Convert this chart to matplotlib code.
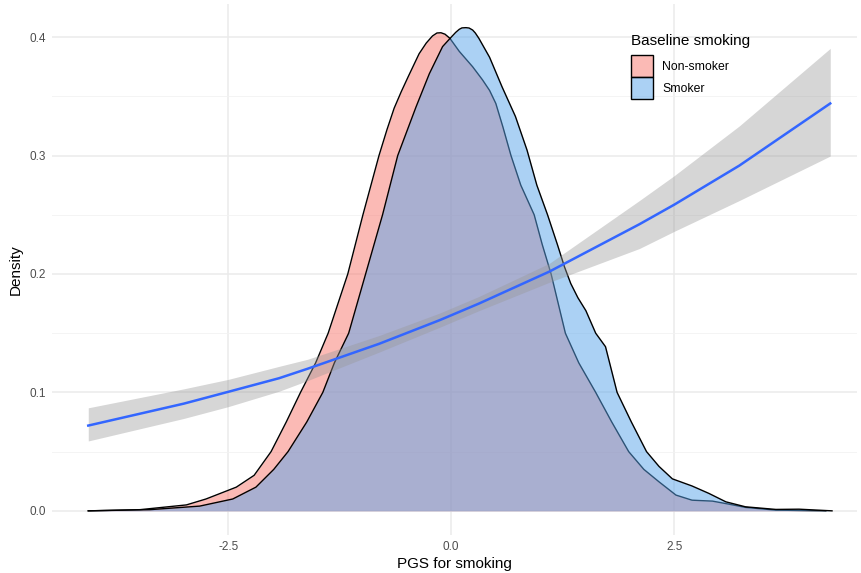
# Density of PGS for smoking by baseline smoking, with fitted curve
import matplotlib
matplotlib.use("Agg")
import matplotlib.pyplot as plt
from matplotlib.colors import to_rgba
from matplotlib.patches import Patch

plt.rcParams['font.family'] = ['Liberation Sans', 'DejaVu Sans']

# Non-smoker density
non_x = [-4.07, -3.49, -2.97, -2.75, -2.41, -2.21, -2.02, -1.85, -1.69, -1.52, -1.38,
         -1.16, -0.99, -0.81, -0.72, -0.64, -0.56, -0.48, -0.36, -0.28, -0.21, -0.16, -0.115,
         -0.07, -0.015, 0.09, 0.24, 0.35, 0.43, 0.50, 0.58, 0.67, 0.78, 0.93, 1.02, 1.12,
         1.28, 1.43, 1.62, 1.80, 1.99, 2.16, 2.33, 2.52, 2.70, 2.93, 3.11, 3.30, 3.64, 4.20]
non_y = [0.000, 0.001, 0.005, 0.010, 0.020, 0.030, 0.050, 0.075, 0.100, 0.125, 0.150,
         0.200, 0.250, 0.300, 0.322, 0.340, 0.354, 0.367, 0.386, 0.395, 0.401, 0.4035, 0.4037,
         0.4025, 0.399, 0.388, 0.375, 0.364, 0.355, 0.344, 0.324, 0.300, 0.275, 0.250, 0.225, 0.200,
         0.150, 0.125, 0.100, 0.075, 0.050, 0.035, 0.0245, 0.0133, 0.009, 0.0082, 0.0057, 0.0029,
         0.0006, 0.000]

# Smoker density
smk_x = [-4.07, -3.38, -2.82, -2.45, -2.19, -1.99, -1.83, -1.62, -1.44, -1.31, -1.15,
         -0.96, -0.77, -0.60, -0.395, -0.246, -0.097, 0.00, 0.05, 0.09, 0.12, 0.165, 0.20,
         0.24, 0.27, 0.31, 0.43, 0.57, 0.72, 0.85, 0.96, 1.08, 1.19, 1.27, 1.34, 1.42, 1.51, 1.62,
         1.73, 1.86, 2.02, 2.19, 2.33, 2.48, 2.70, 2.89, 3.08, 3.30, 3.64, 3.90, 4.27]
smk_y = [0.000, 0.001, 0.004, 0.010, 0.020, 0.035, 0.050, 0.075, 0.100, 0.125, 0.150,
         0.200, 0.250, 0.300, 0.341, 0.369, 0.392, 0.400, 0.404, 0.4066, 0.4078, 0.408, 0.4077,
         0.406, 0.4035, 0.399, 0.383, 0.358, 0.333, 0.3046, 0.275, 0.250, 0.225, 0.206, 0.192,
         0.180, 0.169, 0.150, 0.1386, 0.100, 0.075, 0.050, 0.0375, 0.027, 0.021, 0.0147, 0.0076,
         0.0034, 0.0012, 0.0014, 0.000]

# Fitted curve and its confidence band
fit_x = [-4.07, -3.0, -2.5, -1.93, -1.61, -0.81, -0.13, 0.31, 1.10, 2.11, 2.50, 3.23, 4.25]
fit_y = [0.072, 0.0905, 0.1005, 0.112, 0.120, 0.141, 0.161, 0.175, 0.202, 0.242, 0.2585, 0.2915, 0.344]
fit_hi = [0.087, 0.103, 0.111, 0.122, 0.128, 0.148, 0.167, 0.181, 0.209, 0.262, 0.283, 0.325, 0.3905]
fit_lo = [0.059, 0.078, 0.088, 0.101, 0.110, 0.134, 0.155, 0.169, 0.193, 0.2215, 0.236, 0.262, 0.2996]

groups = ["Non-smoker", "Smoker"]
fills = ["#F8766D", "#59A5EB"]

fig = plt.figure(figsize=(8.61, 5.73), dpi=100)
ax = fig.add_axes([51.7/861, 1-535/573, (857-51.7)/861, (535-3.5)/573])

ax.fill_between(non_x, non_y, color=fills[0], alpha=0.5, lw=0, zorder=2)
ax.plot(non_x, non_y, color="black", lw=1.0, zorder=2)
ax.fill_between(smk_x, smk_y, color=fills[1], alpha=0.5, lw=0, zorder=3)
ax.plot(smk_x, smk_y, color="black", lw=1.0, zorder=3)

ax.fill_between(fit_x, fit_lo, fit_hi, color="#999999", alpha=0.4, lw=0, zorder=4)
ax.plot(fit_x, fit_y, color="#3366FF", lw=1.8, zorder=5)

ax.set_xlim(-4.48, 4.55)
ax.set_ylim(-0.0204, 0.4284)
ax.set_xticks([-2.5, 0.0, 2.5])
ax.set_xticklabels(["-2.5", "0.0", "2.5"])
ax.set_yticks([0.0, 0.1, 0.2, 0.3, 0.4])
ax.set_yticklabels(["0.0", "0.1", "0.2", "0.3", "0.4"])
ax.set_yticks([0.05, 0.15, 0.25, 0.35], minor=True)
ax.grid(True, which="major", color="#EBEBEB", lw=1.1, zorder=0)
ax.grid(True, which="minor", axis="y", color="#F2F2F2", lw=0.6, zorder=0)
ax.set_axisbelow(True)
for s in ax.spines.values():
    s.set_visible(False)
ax.tick_params(which="both", length=0, labelsize=8.5, labelcolor="#4D4D4D", pad=4)
ax.set_xlabel("PGS for smoking", fontsize=11, labelpad=3)
ax.set_ylabel("Density", fontsize=11, labelpad=5)

# legend: title as separate text so the keys can sit close together
fig.text(631/861, 1-41/573, "Baseline smoking", fontsize=11, ha="left", va="center")
handles = [Patch(facecolor=to_rgba(c, 0.5), edgecolor="black", lw=1.0) for c in fills]
leg = ax.legend(handles, groups, loc="upper left",
                bbox_to_anchor=(631/861, 1-55/573), bbox_transform=fig.transFigure,
                frameon=False, fontsize=8.8, borderaxespad=0, borderpad=0,
                handlelength=1.8, handleheight=2.4, labelspacing=0.0, handletextpad=0.75)

fig.savefig("out.png", dpi=100)
